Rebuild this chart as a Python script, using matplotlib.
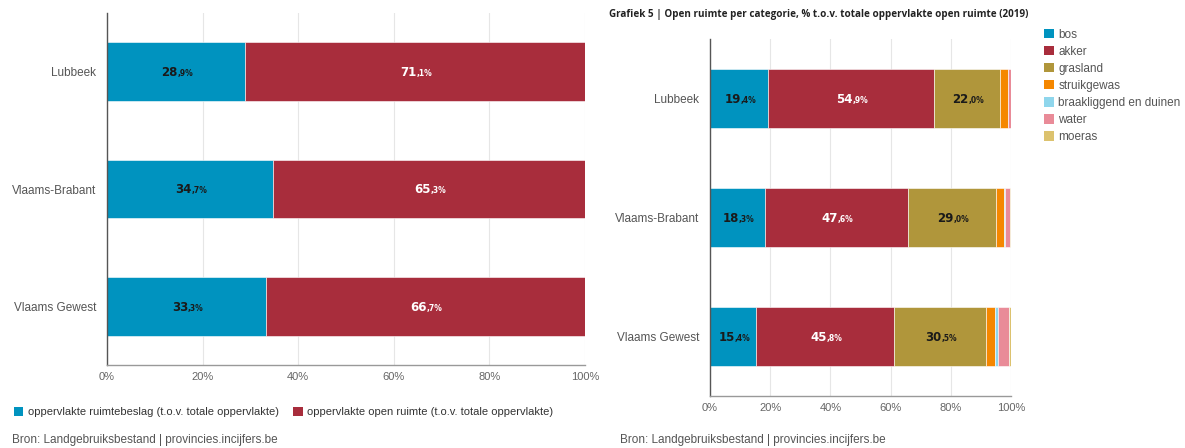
import matplotlib
matplotlib.use("Agg")
import matplotlib.pyplot as plt
from matplotlib.patches import Patch
from matplotlib.ticker import FuncFormatter
import numpy as np

# ---- data -------------------------------------------------------------
regions = ["Lubbeek", "Vlaams-Brabant", "Vlaams Gewest"]

# Graph 1: built-up area vs. open space (% of total area)
ruimtebeslag = [28.9, 34.7, 33.3]
open_ruimte = [71.1, 65.3, 66.7]
left_series_names = ["oppervlakte ruimtebeslag (t.o.v. totale oppervlakte)",
                     "oppervlakte open ruimte (t.o.v. totale oppervlakte)"]

# Graph 5: open space per category (% of total open space, 2019)
categories = ["bos", "akker", "grasland", "struikgewas",
              "braakliggend en duinen", "water", "moeras"]
bos = [19.4, 18.3, 15.4]
akker = [54.9, 47.6, 45.8]
grasland = [22.0, 29.0, 30.5]
struikgewas = [2.6, 2.7, 3.1]
braakliggend = [0.05, 0.3, 0.9]
water = [1.0, 1.8, 3.7]
moeras = [0.05, 0.3, 0.6]

x_ticks = [0, 20, 40, 60, 80, 100]
title_right = "Grafiek 5 | Open ruimte per categorie, % t.o.v. totale oppervlakte open ruimte (2019)"
source = "Bron: Landgebruiksbestand | provincies.incijfers.be"

# ---- styling ----------------------------------------------------------
C_BOS = "#0093bf"
C_AKKER = "#a82d3c"
C_GRAS = "#b0963b"
C_STRUIK = "#f58700"
C_BRAAK = "#8fd6ec"
C_WATER = "#e98b98"
C_MOERAS = "#dcc26e"
cat_colors = [C_BOS, C_AKKER, C_GRAS, C_STRUIK, C_BRAAK, C_WATER, C_MOERAS]
label_colors = ["#1a1a1a", "white", "#1a1a1a", "#1a1a1a", "#1a1a1a", "#1a1a1a", "#1a1a1a"]

plt.rcParams["font.family"] = ["Liberation Sans", "DejaVu Sans"]

fig = plt.figure(figsize=(11.85, 4.48), dpi=100)
fig.patch.set_facecolor("white")


def style_axis(ax):
    ax.set_xlim(0, 100)
    ax.set_ylim(2.5, -0.5)
    ax.set_xticks(x_ticks)
    ax.xaxis.set_major_formatter(FuncFormatter(lambda v, p: f"{v:.0f}%"))
    ax.grid(axis="x", color="#e6e6e6", linewidth=0.8)
    ax.set_axisbelow(True)
    for s in ("top", "right"):
        ax.spines[s].set_visible(False)
    ax.spines["left"].set_color("#555555")
    ax.spines["left"].set_linewidth(1.0)
    ax.spines["bottom"].set_color("#999999")
    ax.spines["bottom"].set_linewidth(1.0)
    ax.tick_params(axis="x", length=0, pad=5, labelsize=8, labelcolor="#666666")
    ax.tick_params(axis="y", length=0, pad=8, labelsize=8.5, labelcolor="#555555")
    ax.set_yticks(range(len(regions)))
    ax.set_yticklabels(regions)


def value_label(ax, x, y, value, color):
    whole, dec = f"{value:.1f}".split(".")
    ax.annotate(whole, (x, y), xytext=(1, -3.2), textcoords="offset points",
                ha="right", va="baseline", fontsize=8.5, fontweight="bold",
                color=color, family=["DejaVu Sans"])
    ax.annotate(f",{dec}%", (x, y), xytext=(1, -3.2), textcoords="offset points",
                ha="left", va="baseline", fontsize=5.5, fontweight="bold",
                color=color, family=["DejaVu Sans"])


def stacked(ax, series, colors, lcolors):
    y = np.arange(len(regions))
    left = np.zeros(len(regions))
    for vals, c, lc in zip(series, colors, lcolors):
        vals = np.asarray(vals, dtype=float)
        ax.barh(y, vals, left=left, height=0.5, color=c,
                edgecolor="white", linewidth=0.4)
        for yi, (l, v) in enumerate(zip(left, vals)):
            if v >= 10:
                value_label(ax, l + v / 2, yi, v, lc)
        left += vals


# ---- left chart ---------------------------------------------------------
axL = fig.add_axes([107 / 1185, 1 - 365 / 448, 478 / 1185, 352 / 448])
style_axis(axL)
stacked(axL, [ruimtebeslag, open_ruimte], [C_BOS, C_AKKER], ["#1a1a1a", "white"])

left_handles = [Patch(facecolor=C_BOS), Patch(facecolor=C_AKKER)]
fig.legend(left_handles, left_series_names, loc="center left",
           bbox_to_anchor=(4 / 1185, 1 - 412 / 448), ncol=2, frameon=False,
           fontsize=8.0, handlelength=0.85, handleheight=0.85,
           handletextpad=0.4, columnspacing=1.3, labelcolor="#333333")

fig.text(12 / 1185, 1 - 440 / 448, source, fontsize=8.5, color="#555555",
         ha="left", va="center")

# ---- right chart --------------------------------------------------------
axR = fig.add_axes([710 / 1185, 1 - 396 / 448, 301 / 1185, 357 / 448])
style_axis(axR)
stacked(axR, [bos, akker, grasland, struikgewas, braakliggend, water, moeras],
        cat_colors, label_colors)

fig.text(609 / 1185, 1 - 14 / 448, title_right, fontsize=7.1, fontweight="bold",
         color="#222222", ha="left", va="center", family=["Open Sans", "DejaVu Sans"])

cat_handles = [Patch(facecolor=c) for c in cat_colors]
fig.legend(cat_handles, categories, loc="upper left",
           bbox_to_anchor=(1033 / 1185, 1 - 18 / 448), frameon=False,
           fontsize=8.5, handlelength=0.85, handleheight=0.85,
           handletextpad=0.4, labelspacing=0.43, labelcolor="#555555")

fig.text(620 / 1185, 1 - 440 / 448, source, fontsize=8.5, color="#555555",
         ha="left", va="center")

fig.savefig("out.png", dpi=100, facecolor="white")
